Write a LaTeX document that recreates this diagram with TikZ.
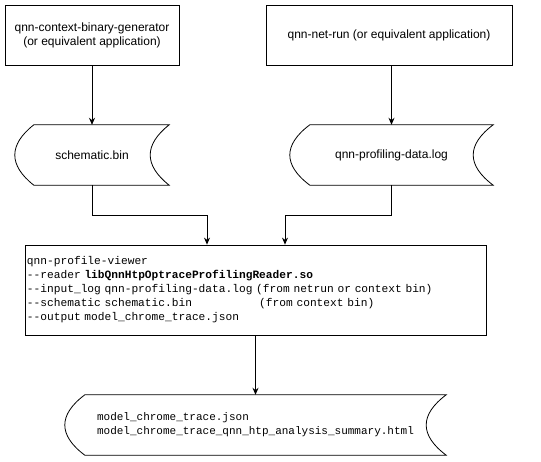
\documentclass[tikz,border=0pt]{standalone}
\usepackage{fontspec}
\setmainfont{Liberation Sans}
\newfontfamily\monofont{Liberation Mono}
\usetikzlibrary{arrows.meta}
\tikzset{
  proc/.style={draw, line width=0.8pt, minimum width=#1, minimum height=60pt, inner sep=2pt, align=center, font=\fontsize{12}{14}\selectfont},
  store/.style={minimum width=#1, minimum height=60pt, inner sep=0pt, align=center, font=\fontsize{12}{14}\selectfont},
  arr/.style={line width=0.8pt, -{Stealth[length=7pt,width=6pt]}},
  shapeline/.style={line width=0.8pt}
}
% #1 node name, #2 curve depth s, #3 node height
\newcommand{\storagepath}[3]{%
  \draw[shapeline] ([xshift=#2]#1.north west) -- (#1.north east)
    .. controls ([xshift=-#2*4/3, yshift=-#3/3]#1.north east) and ([xshift=-#2*4/3, yshift=#3/3]#1.south east) .. (#1.south east)
    -- ([xshift=#2]#1.south west)
    .. controls ([xshift=-#2/3, yshift=#3/3]#1.south west) and ([xshift=-#2/3, yshift=-#3/3]#1.north west) .. ([xshift=#2]#1.north west) -- cycle;}
\begin{document}
\begin{tikzpicture}[x=1pt,y=-1pt]
\useasboundingbox (0,0) rectangle (541,461);
\node[proc=174pt] (b1) at (92,35) {qnn-context-binary-generator\\(or equivalent application)};
\node[proc=246pt] (b2) at (389,35) {qnn-net-run (or equivalent application)};
\node[store=154pt] (s1) at (92,155) {schematic.bin};
\node[store=203pt] (s2) at (391.5,155) {qnn-profiling-data.log};
\storagepath{s1}{19pt}{60pt}
\storagepath{s2}{20pt}{60pt}
\node[draw, line width=0.8pt, minimum width=461pt, minimum height=90pt, inner sep=2pt,
      text width=457pt, align=left, font=\monofont\fontsize{11.2}{14}\selectfont] (b3) at (255.5,290)
 {qnn-profile-viewer\\
  --reader \textbf{libQnnHtpOptraceProfilingReader.so}\\
  --input\_log qnn-profiling-data.log (from netrun or context bin)\\
  --schematic schematic.bin\hphantom{xxxxxxxxxx}(from context bin)\\
  --output model\_chrome\_trace.json};
\node[store=381pt, align=left, font=\monofont\fontsize{11}{14}\selectfont] (s3) at (255.5,425)
 {model\_chrome\_trace.json\\model\_chrome\_trace\_qnn\_htp\_analysis\_summary.html};
\storagepath{s3}{20pt}{60pt}
\coordinate (m1) at (207,215);
\coordinate (m2) at (285,215);
\draw[arr] (b1.south) -- (s1.north);
\draw[arr] (b2.south -| s2.north) -- (s2.north);
\draw[arr] (s1.south) |- (m1) -- (m1 |- b3.north);
\draw[arr] (s2.south) |- (m2) -- (m2 |- b3.north);
\draw[arr] (b3.south) -- (s3.north);
\end{tikzpicture}
\end{document}
